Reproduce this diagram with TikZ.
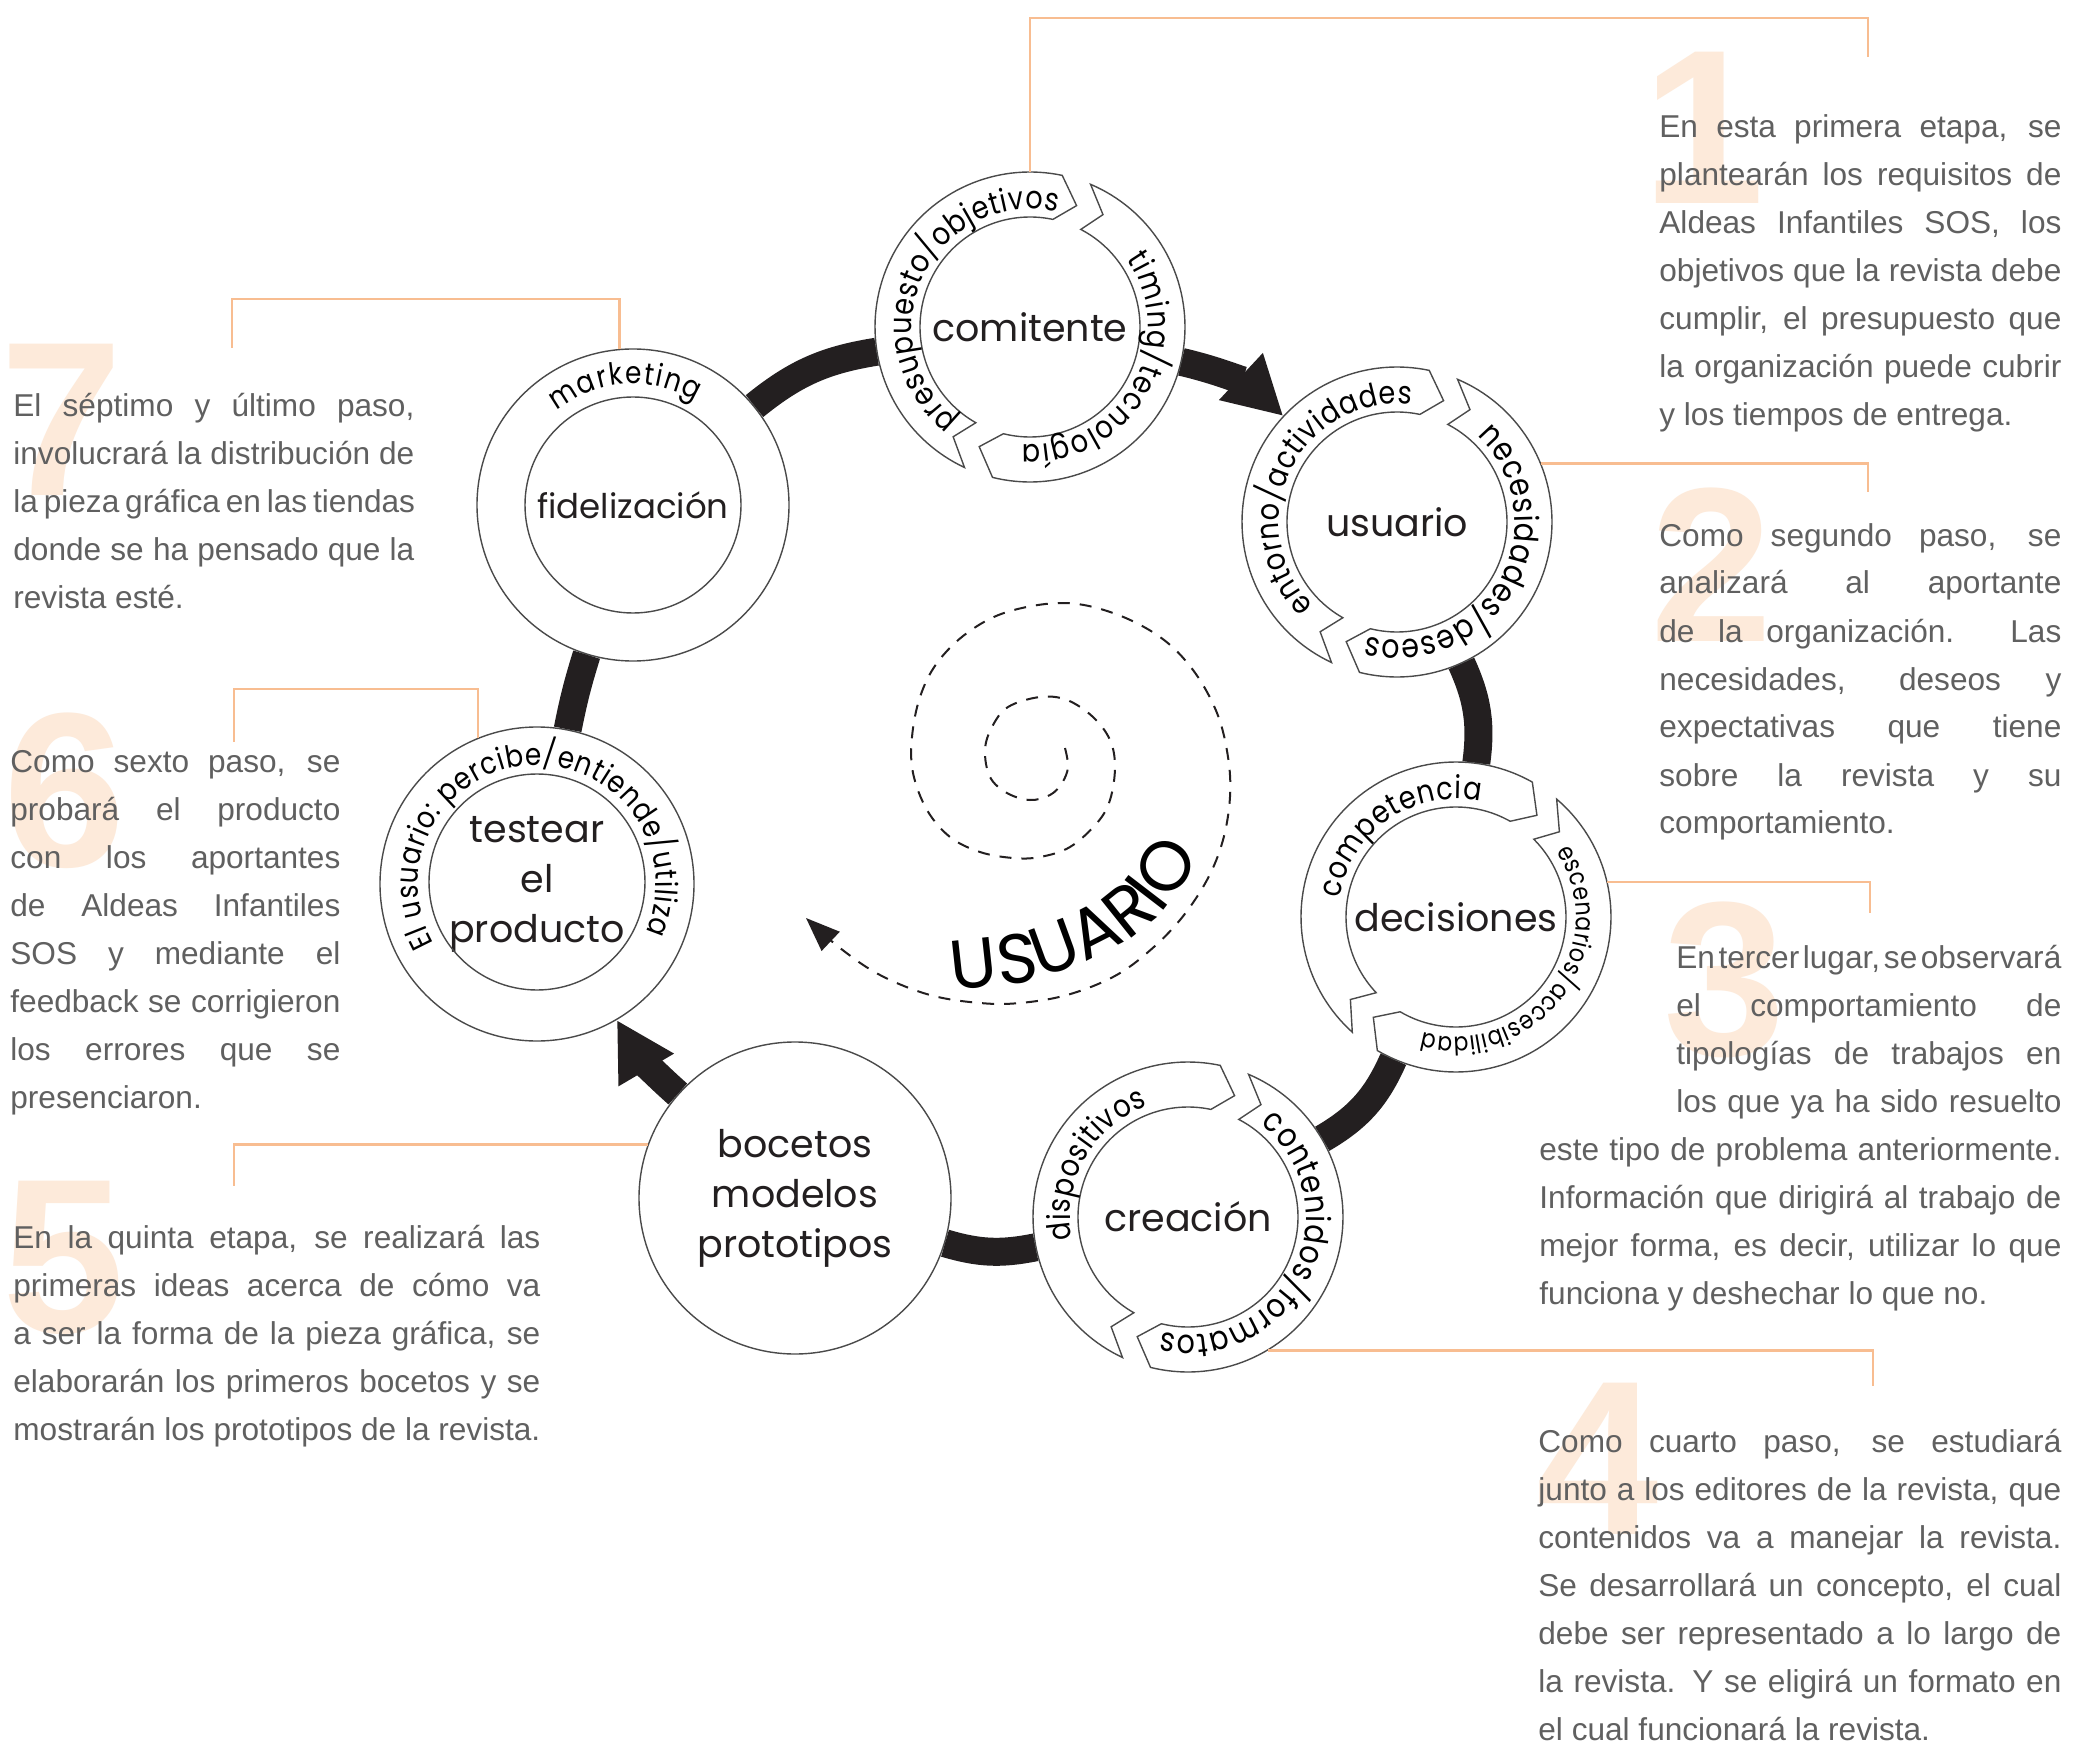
\documentclass[tikz,border=0pt]{standalone}
\usepackage{fontspec}
\setmainfont{Liberation Sans}
\newfontfamily\ral{Poppins}
\newfontfamily\ralc{Poppins}[FakeStretch=0.86]
\usetikzlibrary{arrows.meta,decorations.text}
\definecolor{ink}{HTML}{231F20}
\definecolor{ringgray}{HTML}{4A4A4A}
\definecolor{bodygray}{HTML}{606060}
\definecolor{leadorange}{RGB}{248,189,145}
\definecolor{peach}{RGB}{253,234,218}
\newcommand\jl[1]{\hbox to\hsize{#1}}
\newcommand\el[1]{\hbox{#1}}
\newcommand\il[1]{\hbox to\hsize{\hskip68.5pt\hbox to192.5pt{#1}}}
\newcommand\rfa{\ralc\fontsize{15.8}{18}\selectfont}
\newcommand\rfb{\ralc\fontsize{16.6}{19}\selectfont}
\newcommand\rfs{\ralc\fontsize{12.8}{15}\selectfont}
\newcommand\rfm{\ralc\fontsize{15.3}{18}\selectfont}
\newcommand\bigusfont{\ral\fontsize{35}{40}\selectfont}
\newcommand\ringarrow[4]{%
  \pgfmathsetmacro\rtA{#3+4.5}%
  \pgfmathsetmacro\rtB{#3+10}%
  \pgfmathsetmacro\rtC{#4+9}%
  \filldraw[ringline] plot[domain=#3:#4,samples=80,variable=\t]({#1+155*cos(\t)},{#2+155*sin(\t)})
    -- ({#1+130*cos(\rtC)},{#2+130*sin(\rtC)})
    -- plot[domain=#4:\rtA,samples=80,variable=\t]({#1+110*cos(\t)},{#2+110*sin(\t)})
    -- ({#1+134*cos(\rtB)},{#2+134*sin(\rtB)}) -- cycle;}
\newcommand\ringtext[7]{%
  \path[color=ink,decorate,decoration={text along path,text={|#6|#7},text align={fit to path}}]
    plot[domain=#4:#5,samples=100,variable=\t]({#1+#3*cos(\t)},{#2+#3*sin(\t)});}
\begin{document}
\begin{tikzpicture}[x=0.5pt,y=-0.5pt,
  hub/.style={circle,minimum size=155pt,inner sep=0pt,font=\ral\fontsize{19}{25}\selectfont,text=ink,align=center},
  ring/.style={draw=ringgray,line width=0.7pt,fill=white},
  ringline/.style={draw=ringgray,line width=0.7pt,fill=white},
  innerring/.style={circle,draw=ringgray,line width=0.7pt,minimum size=108pt,inner sep=0pt},
  flow/.style={draw=ink,line width=14pt},
  flowtip/.style={-{Triangle[length=29pt,width=30pt]}},
  lead/.style={draw=leadorange,line width=1.3pt},
  digit/.style={anchor=base west,inner sep=0pt,text=peach,font=\fontsize{110}{110}\bfseries\selectfont},
  para/.style={anchor=base west,inner sep=0pt,text=bodygray,font=\fontsize{15.8}{24}\selectfont},
  spiral/.style={draw=ink,line width=1pt,dash pattern=on 6pt off 5pt}]
\useasboundingbox (0,0) rectangle (2073,1749);
\fill[white] (0,0) rectangle (2073,1749);

% big step numbers
\node[digit] (n1) at (1642,204) {1};
\node[digit] (n2) at (1650,641) {2};
\node[digit] (n3) at (1663,1055) {3};
\node[digit] (n4) at (1536,1534) {4};
\node[digit] (n5) at (2,1332) {5};
\node[digit] (n6) at (3,866) {6};
\node[digit] (n7) at (0,495) {7};

% paragraphs
\node[para] (t1) at (1659,138) {\parbox[t]{201pt}{%
\jl{En esta primera etapa, se}%
\jl{plantearán los requisitos de}%
\jl{Aldeas Infantiles SOS, los}%
\jl{objetivos que la revista debe}%
\jl{cumplir, el presupuesto que}%
\jl{la organización puede cubrir}%
\el{y los tiempos de entrega.}}};
\node[para] (t2) at (1659,546) {\parbox[t]{201pt}{%
\jl{Como segundo paso, se}%
\jl{analizará al aportante}%
\jl{de la organización. Las}%
\jl{necesidades, deseos y}%
\jl{expectativas que tiene}%
\jl{sobre la revista y su}%
\el{comportamiento.}}};
\node[para] (t3) at (1539,968) {\parbox[t]{261pt}{%
\il{\spaceskip=1.2pt plus 3pt minus 1pt En tercer lugar, se observará}%
\il{el comportamiento de}%
\il{tipologías de trabajos en}%
\il{los que ya ha sido resuelto}%
\jl{este tipo de problema anteriormente.}%
\jl{Información que dirigirá al trabajo de}%
\jl{mejor forma, es decir, utilizar lo que}%
\el{funciona y deshechar lo que no.}}};
\node[para] (t4) at (1538,1452) {\parbox[t]{261.5pt}{%
\jl{Como cuarto paso, se estudiará}%
\jl{junto a los editores de la revista, que}%
\jl{contenidos va a manejar la revista.}%
\jl{Se desarrollará un concepto, el cual}%
\jl{debe ser representado a lo largo de}%
\jl{la revista. Y se eligirá un formato en}%
\el{el cual funcionará la revista.}}};
\node[para] (t5) at (13,1248) {\parbox[t]{263.5pt}{%
\jl{En la quinta etapa, se realizará las}%
\jl{primeras ideas acerca de cómo va}%
\jl{a ser la forma de la pieza gráfica, se}%
\jl{elaborarán los primeros bocetos y se}%
\el{mostrarán los prototipos de la revista.}}};
\node[para] (t6) at (10,772) {\parbox[t]{165pt}{%
\jl{Como sexto paso, se}%
\jl{probará el producto}%
\jl{con los aportantes}%
\jl{de Aldeas Infantiles}%
\jl{SOS y mediante el}%
\jl{feedback se corrigieron}%
\jl{los errores que se}%
\el{presenciaron.}}};
\node[para] (t7) at (13,417) {\parbox[t]{200.5pt}{%
\jl{El séptimo y último paso,}%
\jl{involucrará la distribución de}%
\jl{la pieza gráfica en las tiendas}%
\jl{donde se ha pensado que la}%
\el{revista esté.}}};

% cycle nodes
\node[hub] (comitente) at (1030,327) {comitente};
\node[hub] (usuario) at (1397,522) {usuario};
\node[hub] (decisiones) at (1456,917) {decisiones};
\node[hub] (creacion) at (1188,1217) {creación};
\node[hub,ring,minimum size=156pt] (bocetos) at (795,1198) {bocetos\\modelos\\prototipos};
\node[hub,ring,minimum size=157pt] (testear) at (537,884) {testear\\el\\producto};
\node[hub,ring,minimum size=156pt,font=\ral\fontsize{17}{20}\selectfont] (fidel) at (633,505) {fidelización};
\node[innerring] (testearin) at (537,882) {};
\node[innerring] (fidelin) at (633,505) {};

% thick cycle connectors
\draw[flow] (fidel) to[bend left=15] (comitente);
\draw[flow,flowtip] (comitente) to[bend left=15] (usuario);
\draw[flow] (usuario) to[bend left=16] (decisiones);
\draw[flow] (decisiones) to[bend left=18] (creacion);
\draw[flow] (creacion) to[bend left=14] (bocetos);
\draw[flow,flowtip] (bocetos) to[bend left=9] (testear);
\draw[flow] (testear) to[bend left=3] (fidel);

% circular arrow rings
\ringarrow{1030}{327}{115}{282}
\ringarrow{1030}{327}{293}{464}
\ringarrow{1397}{522}{115}{282}
\ringarrow{1397}{522}{293}{464}
\ringarrow{1456}{917}{132}{299.5}
\ringarrow{1456}{917}{310.5}{480.5}
\ringarrow{1188}{1217}{115}{282}
\ringarrow{1188}{1217}{293}{464}

% ring texts
\ringtext{1030}{327}{118}{128}{283.5}{\rfa}{presupuesto/objetivos}
\ringtext{1030}{327}{118}{325}{454}{\rfa}{timing/tecnología}
\ringtext{1397}{522}{118}{135}{277}{\rfa}{entorno/actividades}
\ringtext{1397}{522}{118}{313}{465}{\rfb}{necesidades/deseos}
\ringtext{1456}{917}{118}{189}{282}{\rfa}{competencia}
\ringtext{1456}{917}{120}{327}{466}{\rfs}{escenarios/accesibilidad}
\ringtext{1188}{1217}{118}{169}{250}{\rfa}{dispositivos}
\ringtext{1188}{1217}{118}{308}{463}{\rfb}{contenidos/formatos}
\ringtext{537}{884}{119}{150}{384}{\rfm}{El usuario: percibe/entiende/utiliza}
\ringtext{633}{505}{121}{231}{301}{\rfm}{marketing}

% leader lines
\coordinate (c1) at (1868,18); \coordinate (e1) at (1868,57);
\coordinate (e2) at (1868,492);
\coordinate (e3) at (1870,913);
\coordinate (e4) at (1873,1386);
\coordinate (e5) at (234,1186);
\coordinate (c6) at (234,689); \coordinate (e6) at (234,742);
\coordinate (c7) at (232,299); \coordinate (e7) at (232,348);
\draw[lead] (comitente.north) |- (c1) -- (e1);
\draw[lead] (usuario.22) -| (e2);
\draw[lead] (decisiones.13) -| (e3);
\draw[lead] (creacion.-59) -| (e4);
\draw[lead] (bocetos.160) -| (e5);
\draw[lead] (testear.112) |- (c6) -- (e6);
\draw[lead] (fidel.95) |- (c7) -- (e7);

% central spiral
\draw[spiral,-{Triangle[length=17pt,width=13pt]}] plot[smooth,tension=0.6] coordinates {
(1065,748) (1068,767) (1062,783) (1050,795) (1030,800) (1007,793) (990,777) (985,750)
(992,727) (1008,707) (1040,697) (1067,700) (1093,717) (1110,740) (1115,767) (1110,800)
(1097,823) (1070,847) (1040,857) (1013,858) (980,852) (950,837) (927,810) (913,773)
(912,737) (920,697) (937,663) (967,633) (1007,612) (1063,603) (1113,613) (1160,637)
(1193,670) (1217,713) (1228,757) (1230,797) (1223,840) (1207,880) (1180,920) (1147,953)
(1113,977) (1067,995) (1020,1003) (980,1003) (930,995) (880,975) (840,948) (806,918)};
\path[color=ink,decorate,decoration={text along path,text={|\bigusfont|USUARIO}}]
  (953,991) -- (975,988) -- (1030,982) -- (1085,962) -- (1130,939) -- (1160,915) -- (1183,885) -- (1198,860) -- (1208,835) -- (1215,810) -- (1219,780);
\end{tikzpicture}
\end{document}
